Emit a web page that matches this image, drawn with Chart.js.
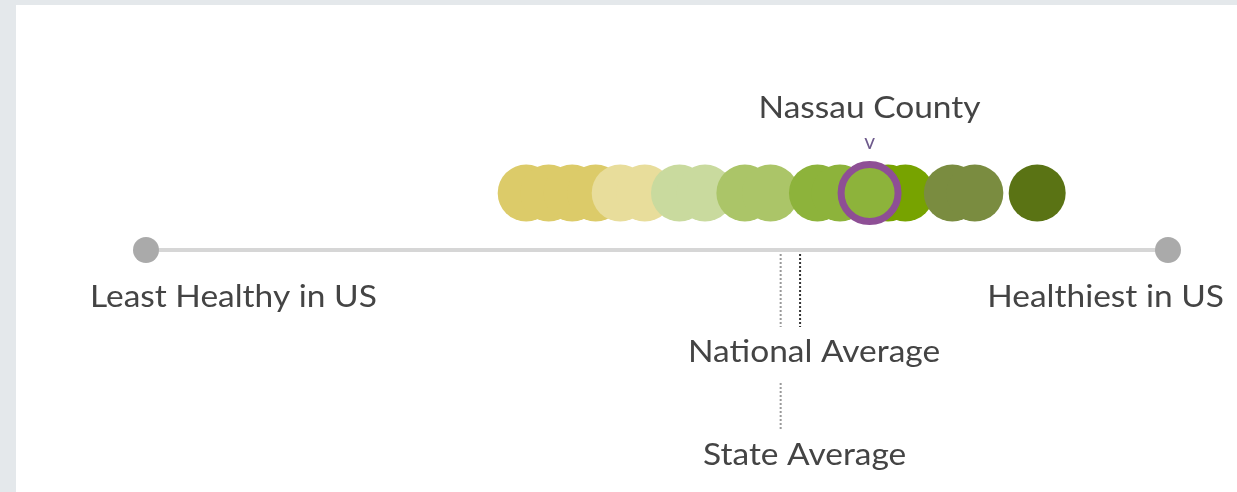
<!DOCTYPE html>
<html>
<head>
<meta charset="utf-8">
<script src="https://cdn.jsdelivr.net/npm/chart.js@4"></script>
<style>
  html, body { margin: 0; padding: 0; background: #e4e8eb; overflow: hidden; }
  #panel { position: absolute; left: 16px; top: 5px; width: 1221px; height: 487px; background: #fff; }
</style>
</head>
<body>
<div id="panel"><canvas id="rank" width="1221" height="487"></canvas></div>
<script>
// county health scores, 0 = least healthy in US, 100 = healthiest
const countyScores = [37.2, 39.4, 41.7, 44.0, 46.4, 48.8, 52.2, 54.7, 58.6, 61.1, 65.7, 67.9, 72.6, 74.3, 78.9, 81.1, 87.2];
const highlightName = 'Nassau County';
const highlightScore = 70.8;
const stateAverage = 62.1;
const nationalAverage = 64.0;
const scaleEnds = ['Least Healthy in US', 'Healthiest in US'];

// colour bands (upper bound of score, colour)
const bands = [
    [45, '#dccb69'],
    [50, '#e8dd9b'],
    [56, '#c9da9e'],
    [63, '#abc568'],
    [71, '#8db33b'],
    [76, '#77a300'],
    [84, '#7a8c40'],
    [101, '#5a7314']
];
const bandColor = v => bands.find(b => v < b[0])[1];

const DOT_Y = 0.57;
const font = 'Lato, "Open Sans", sans-serif';

// text is a bit wide in the original, so stretch it horizontally
function wideText(ctx, text, x, y, align) {
    const sx = 1.08;
    const w = ctx.measureText(text).width * sx;
    let left = x;
    if (align === 'center') left = x - w / 2;
    if (align === 'right') left = x - w;
    ctx.save();
    ctx.translate(left, y);
    ctx.scale(sx, 1);
    ctx.textAlign = 'left';
    ctx.fillText(text, 0, 0);
    ctx.restore();
}

const labels = {
    id: 'labels',
    afterDatasetsDraw(chart) {
        const { ctx, scales: { x, y } } = chart;
        ctx.save();
        ctx.fillStyle = '#444';
        ctx.font = '31px ' + font;
        ctx.textBaseline = 'middle';

        wideText(ctx, scaleEnds[0], x.getPixelForValue(0) - 56, y.getPixelForValue(-0.47), 'left');
        wideText(ctx, scaleEnds[1], x.getPixelForValue(100) + 56, y.getPixelForValue(-0.47), 'right');
        wideText(ctx, highlightName, x.getPixelForValue(highlightScore), y.getPixelForValue(1.42), 'center');
        wideText(ctx, 'National Average', x.getPixelForValue(nationalAverage) + 14, y.getPixelForValue(-1.02), 'center');
        wideText(ctx, 'State Average', x.getPixelForValue(stateAverage) + 24, y.getPixelForValue(-2.05), 'center');

        ctx.fillStyle = '#6e5a8c';
        ctx.font = '21px ' + font;
        ctx.textAlign = 'center';
        ctx.fillText('v', x.getPixelForValue(highlightScore), y.getPixelForValue(1.08));
        ctx.restore();
    }
};

new Chart(document.getElementById('rank'), {
    type: 'scatter',
    data: {
        datasets: [
            {
                // highlighted county
                data: [{ x: highlightScore, y: DOT_Y }],
                backgroundColor: bandColor(highlightScore),
                borderColor: '#8e4f95',
                borderWidth: 7,
                pointRadius: 28.5,
                clip: false
            },
            {
                data: countyScores.map(v => ({ x: v, y: DOT_Y })),
                pointBackgroundColor: countyScores.map(bandColor),
                borderWidth: 0,
                pointRadius: 28.5,
                clip: false
            },
            {
                // scale bar
                type: 'line',
                data: [{ x: 0, y: 0 }, { x: 100, y: 0 }],
                borderColor: '#d6d6d6',
                borderWidth: 4,
                pointRadius: 13,
                pointBackgroundColor: '#aaaaaa',
                pointBorderWidth: 0,
                clip: false
            },
            {
                type: 'line',
                data: [{ x: nationalAverage, y: 0 }, { x: nationalAverage, y: -0.77 }],
                borderColor: '#333',
                borderWidth: 2,
                borderDash: [2, 2],
                pointRadius: 0,
                clip: false
            },
            {
                type: 'line',
                data: [
                    { x: stateAverage, y: 0 }, { x: stateAverage, y: -0.77 },
                    { x: stateAverage, y: null },
                    { x: stateAverage, y: -1.33 }, { x: stateAverage, y: -1.8 }
                ],
                borderColor: '#9a9a9a',
                borderWidth: 2,
                borderDash: [2, 2],
                pointRadius: 0,
                spanGaps: false,
                clip: false
            }
        ]
    },
    options: {
        responsive: false,
        animation: false,
        layout: { padding: { left: 130, right: 69, top: 45, bottom: 42 } },
        scales: {
            x: { type: 'linear', min: 0, max: 100, display: false },
            y: { type: 'linear', min: -2, max: 2, display: false }
        },
        plugins: {
            legend: { display: false },
            tooltip: { enabled: false }
        }
    },
    plugins: [labels]
});
</script>
</body>
</html>
